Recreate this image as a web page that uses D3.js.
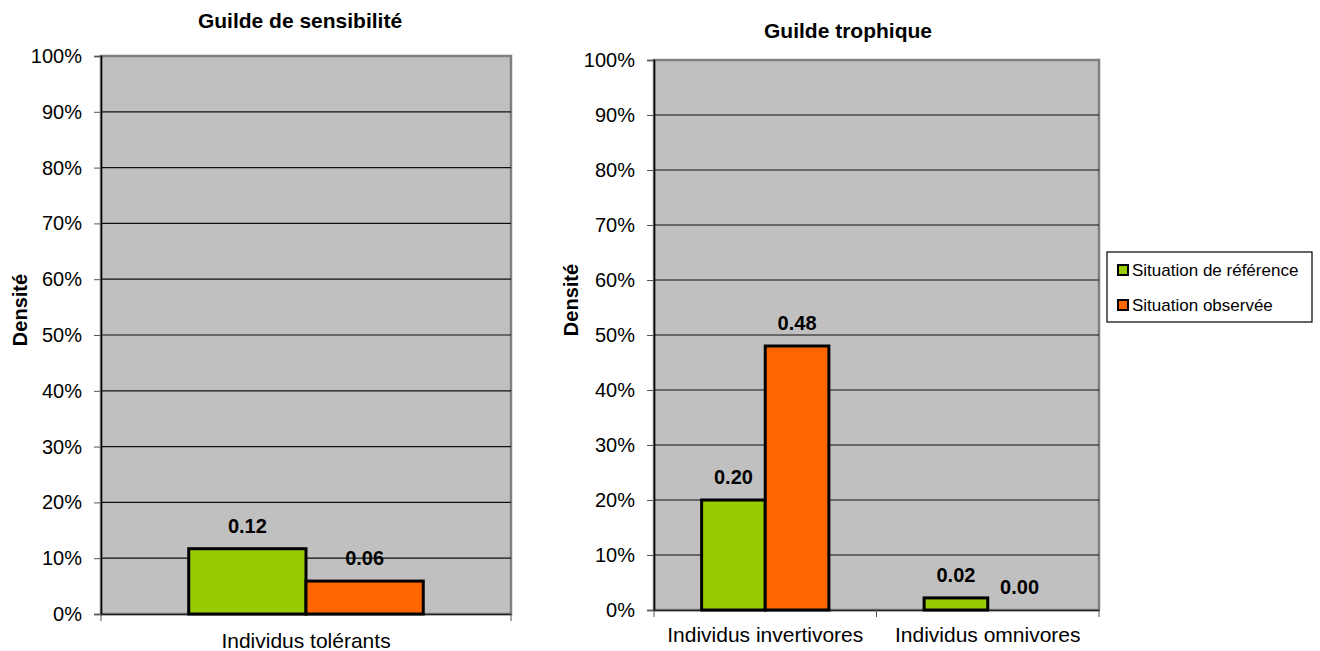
<!DOCTYPE html>
<html><head><meta charset="utf-8">
<script src="https://cdn.jsdelivr.net/npm/d3@7"></script>
<style>body{margin:0;background:#fff;font-family:"Liberation Sans",Arial,sans-serif}</style>
</head><body>
<svg id="c" width="1320" height="651" font-family="Liberation Sans, Arial, sans-serif"></svg>
<script>
const seriesNames = ["Situation de référence", "Situation observée"];
const seriesColors = ["#99CC00", "#FF6600"];
const yTicks = [0,0.1,0.2,0.3,0.4,0.5,0.6,0.7,0.8,0.9,1.0];

const sensCategories = ["Individus tolérants"];
const sensReference = [0.117];
const sensObserved = [0.059];

const trophCategories = ["Individus invertivores", "Individus omnivores"];
const trophReference = [0.20, 0.022];
const trophObserved = [0.48, 0.0];

const svg = d3.select("#c");
const fmt = d3.format(".2f");
const FF = "Liberation Sans, Arial, sans-serif";

function panel(cfg){
  const {x0,x1,y0,y1,title,titleX,titleY,cats,ref,obs,ylabX,ylabY,catPad} = cfg;
  const g = svg.append("g");
  const x = d3.scaleBand().domain(cats).range([x0,x1]).paddingInner(0).paddingOuter(0);
  const y = d3.scaleLinear().domain([0,1]).range([y1,y0]);
  g.append("rect").attr("x",x0).attr("y",y0).attr("width",x1-x0).attr("height",y1-y0)
    .attr("fill","#C0C0C0").attr("stroke","#808080").attr("stroke-width",2.5);
  g.selectAll(".grid").data(yTicks.slice(1,-1)).join("line")
    .attr("x1",x0).attr("x2",x1).attr("y1",d=>y(d)).attr("y2",d=>y(d))
    .attr("stroke","#111").attr("stroke-width",1.2);
  const ya = d3.axisLeft(y).tickValues(yTicks).tickFormat(d3.format(".0%")).tickSize(7).tickPadding(12);
  const yg = g.append("g").attr("transform",`translate(${x0},0)`).call(ya);
  yg.select(".domain").attr("stroke","#000").attr("stroke-width",1.5);
  yg.selectAll(".tick line").attr("stroke","#555");
  yg.selectAll("text").attr("font-size",20).attr("font-family",FF).attr("fill","#000");
  const xa = d3.axisBottom(x).tickSize(0).tickPadding(catPad);
  const xg = g.append("g").attr("transform",`translate(0,${y1})`).call(xa);
  xg.select(".domain").attr("stroke","#222").attr("stroke-width",1.5);
  xg.selectAll("text").attr("font-size",21).attr("font-family",FF).attr("fill","#000");
  const bounds = [x0].concat(cats.map(c=>x(c)+x.bandwidth()));
  g.selectAll(".xt").data(bounds).join("line")
    .attr("x1",d=>d).attr("x2",d=>d).attr("y1",y1).attr("y2",y1+7).attr("stroke","#555");
  const bw = x.bandwidth()*0.286;
  const data = [];
  cats.forEach((c,i)=>{
    data.push({c, s:0, v:ref[i]});
    data.push({c, s:1, v:obs[i]});
  });
  const cx = d=> x(d.c)+x.bandwidth()/2 + (d.s===0 ? -bw : 0);
  g.selectAll(".bar").data(data).join("rect")
    .attr("x",cx).attr("y",d=>y(d.v)).attr("width",bw).attr("height",d=>y(0)-y(d.v))
    .attr("fill",d=>seriesColors[d.s]).attr("stroke","#000").attr("stroke-width",d=>d.v>0?3:0);
  g.selectAll(".lbl").data(data).join("text")
    .attr("x",d=>cx(d)+bw/2).attr("y",d=>y(d.v)-16)
    .attr("text-anchor","middle").attr("font-size",20).attr("font-weight","bold").attr("fill","#000")
    .text(d=>fmt(d.v));
  g.append("text").attr("x",titleX).attr("y",titleY).attr("text-anchor","middle")
    .attr("font-size",21).attr("font-weight","bold").text(title);
  g.append("text").attr("transform",`translate(${ylabX},${ylabY}) rotate(-90)`).attr("text-anchor","middle")
    .attr("font-size",20).attr("font-weight","bold").text("Densité");
}

panel({x0:101,x1:511,y0:56,y1:614,title:"Guilde de sensibilité",titleX:300,titleY:28,catPad:19,
  cats:sensCategories,ref:sensReference,obs:sensObserved,ylabX:27,ylabY:310});
panel({x0:654,x1:1099,y0:60,y1:610,title:"Guilde trophique",titleX:848,titleY:38,catPad:17,
  cats:trophCategories,ref:trophReference,obs:trophObserved,ylabX:578,ylabY:300});

const lg = svg.append("g");
lg.append("rect").attr("x",1107).attr("y",252).attr("width",205).attr("height",70)
  .attr("fill","#fff").attr("stroke","#000").attr("stroke-width",1.2);
seriesNames.forEach((n,i)=>{
  const yy = 265 + i*35;
  lg.append("rect").attr("x",1118).attr("y",yy).attr("width",10).attr("height",10)
    .attr("fill",seriesColors[i]).attr("stroke","#000").attr("stroke-width",2);
  lg.append("text").attr("x",1132).attr("y",yy+11).attr("font-size",17).text(n);
});
</script>
</body></html>
